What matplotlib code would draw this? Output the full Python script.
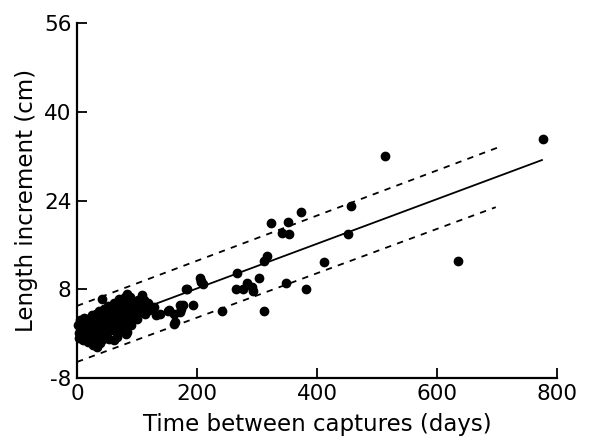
import matplotlib
matplotlib.use("Agg")
import matplotlib.pyplot as plt

plt.rcParams['font.family'] = ['DejaVu Sans']
plt.rcParams['axes.unicode_minus'] = False

# days between captures and length increment (cm)
days = [2, 3, 4, 5, 6, 7, 8, 9, 10, 11, 12, 13, 14, 15, 16, 18, 19, 20, 21, 22,
        23, 24, 25, 26, 27, 28, 29, 30, 31, 32, 33, 34, 35, 36, 37, 38, 39, 40,
        41, 42, 43, 44, 45, 46, 47, 48, 49, 50,
        52, 53, 54, 55, 56, 57, 58, 60, 61, 62, 63, 64, 65, 66, 67, 68, 70, 71,
        72, 74, 75, 76, 78, 79, 80,
        81, 82, 84, 84, 85, 86, 88, 89, 90, 92, 94, 95, 97, 100, 101, 103, 105,
        107, 109, 111, 113, 115, 118, 120,
        128, 131, 139, 152, 153, 161, 161, 163, 172, 172, 174, 177, 181, 183,
        193, 205, 206, 207, 210,
        241, 265, 267, 276, 284, 291, 293, 304, 311, 312, 317, 323, 342, 348,
        352, 354, 373, 382, 412, 452, 457, 513, 635, 777]
increment = [1.5, 0.2, -0.8, 2.5, 1.0, -0.2, 2.0, 0.5, -1.2, 1.8, 2.8, 0.0, 1.2,
             -0.6, 2.2, 0.8, -1.5, 1.6, 2.9, 0.3,
             -0.9, 1.9, 3.3, 0.6, -2.0, 2.4, 1.0, -1.2, 3.6, 0.2, 2.0, -2.4, 1.4,
             4.0, -0.5, 2.7, -1.7, 0.9, 3.2, 6.3, -1.0, 1.8, 4.4, 0.1, 2.6, -0.4,
             3.8, 1.2,
             5.0, 2.2, -0.9, 3.4, 0.6, 4.6, 1.7, 2.9, -1.2, 5.6, 0.7, 3.6, 2.0,
             4.9, -0.6, 2.8, 6.2, 1.4, 3.9, 0.6, 5.1, 2.5, 4.3, 1.2, 6.6,
             0.0, 3.2, 7.2, 0.3, 5.3, 2.4, 4.4, 6.6, 1.6, 3.6, 5.6, 3.3, 4.6, 2.7,
             6.0, 3.9, 5.4, 4.6, 7.0, 6.0, 3.6, 4.8, 5.6, 4.2,
             4.8, 3.35, 3.6, 4.0, 4.2, 3.6, 1.8, 2.1, 5.1, 3.9, 4.4, 5.2, 8.1, 8.0,
             5.2, 10.1, 9.4, 9.5, 9.0,
             4.1, 8.0, 11.0, 8.0, 9.1, 8.4, 7.6, 10.1, 4.1, 13.1, 14.0, 20.0, 18.2,
             9.1, 20.2, 17.9, 22.0, 8.1, 12.9, 17.9, 23.0, 32.0, 13.1, 35.1]

# regression line and its limits
fit_x = [0, 775]
fit_y = [0.1, 31.3]
upper_x = [0, 705]
upper_y = [5.0, 33.7]
lower_x = [0, 698]
lower_y = [-5.1, 22.8]

x_ticks = [0, 200, 400, 600, 800]
y_ticks = [-8, 8, 24, 40, 56]

fig = plt.figure(figsize=(5.9, 4.44), dpi=100)
ax = fig.add_axes([0.1305, 0.1486, 0.8135, 0.7995])

ax.scatter(days, increment, s=36, color='black', zorder=3, clip_on=False)
ax.plot(fit_x, fit_y, color='black', lw=1.3)
ax.plot(upper_x, upper_y, color='black', lw=1.3, dashes=(3.5, 3.5))
ax.plot(lower_x, lower_y, color='black', lw=1.3, dashes=(3.5, 3.5))

ax.set_xlim(0, 800)
ax.set_ylim(-8, 56)
ax.set_xticks(x_ticks)
ax.set_yticks(y_ticks)
ax.spines['top'].set_visible(False)
ax.spines['right'].set_visible(False)
ax.spines['left'].set_linewidth(1.6)
ax.spines['bottom'].set_linewidth(1.6)
ax.tick_params(direction='in', length=7, width=1.3, labelsize=15.5, pad=4)

ax.set_xlabel("Time between captures (days)", fontsize=16.5, labelpad=7)
ax.set_ylabel("Length increment (cm)", fontsize=16.5, labelpad=4)

fig.savefig("out.png", dpi=100)
